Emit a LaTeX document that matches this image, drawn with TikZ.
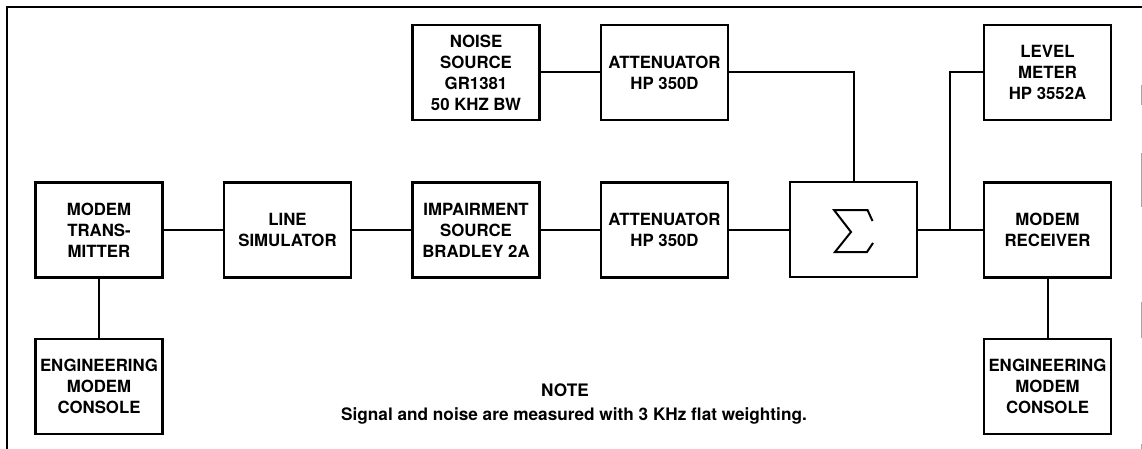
\documentclass[tikz,border=0pt]{standalone}
\usepackage{fontspec}
\setmainfont{TeX Gyre Heros}
\begin{document}
\begin{tikzpicture}[x=1pt,y=-1pt,
  blk/.style={draw,line width=2.2pt,minimum width=127pt,minimum height=95pt,inner sep=0pt,align=center,font=\fontsize{16.8}{21}\selectfont\bfseries},
  wire/.style={line width=2pt},
  frame/.style={line width=2pt},
  notetxt/.style={inner sep=0pt,anchor=base,font=\fontsize{17.2}{20}\selectfont\bfseries}]
\useasboundingbox (0,0) rectangle (1142,449);
% frame
\draw[frame] (7,449) -- (7,7) -- (1142,7);
\draw[line width=1pt,black!35] (1141,85) -- (1141,105) (1141,153) -- (1141,207) (1141,302) -- (1141,338) (1141,444) -- (1141,449);
% blocks
\node[blk] (tx) at (99,230) {MODEM\\TRANS-\\MITTER};
\node[blk] (ls) at (287.5,230) {LINE\\SIMULATOR};
\node[blk] (ns) at (476,72.5) {NOISE\\SOURCE\\GR1381\\50 KHZ BW};
\node[blk] (imp) at (476,230) {IMPAIRMENT\\SOURCE\\BRADLEY 2A};
\node[blk] (at1) at (664.5,72.5) {ATTENUATOR\\HP 350D};
\node[blk] (at2) at (664.5,230) {ATTENUATOR\\HP 350D};
\node[blk] (sig) at (853.5,229.5) {};
\node[blk] (lm) at (1047.5,72.5) {LEVEL\\METER\\HP 3552A};
\node[blk] (rx) at (1047.5,230) {MODEM\\RECEIVER};
\node[blk] (c1) at (99,386.5) {ENGINEERING\\MODEM\\CONSOLE};
\node[blk] (c2) at (1047.5,386.5) {ENGINEERING\\MODEM\\CONSOLE};
% sigma symbol
\begin{scope}[shift={(sig.center)}]
\draw[line width=2pt,line join=miter] (19,-8.5) -- (14,-19.5) -- (-19.5,-19.5) -- (-2.5,2.5) -- (-18.5,22.5) -- (13.5,22.5) -- (19.5,13.5);
\end{scope}
% connectors
\coordinate (j) at (950,230);
\draw[wire] (tx.east) -- (ls.west);
\draw[wire] (ls.east) -- (imp.west);
\draw[wire] (imp.east) -- (at2.west);
\draw[wire] (at2.east) -- (sig.west |- at2.east);
\draw[wire] (ns.east) -- (at1.west);
\draw[wire] (at1.east) -| (sig.north);
\draw[wire] (sig.east |- rx.west) -- (rx.west);
\draw[wire] (j) |- (lm.west);
\draw[wire] (tx.south) -- (c1.north);
\draw[wire] (rx.south) -- (c2.north);
% note
\node[notetxt] (nt) at (565,396) {NOTE};
\node[notetxt] (ntx) at (574,420) {Signal and noise are measured with 3 KHz flat weighting.};
\end{tikzpicture}
\end{document}
